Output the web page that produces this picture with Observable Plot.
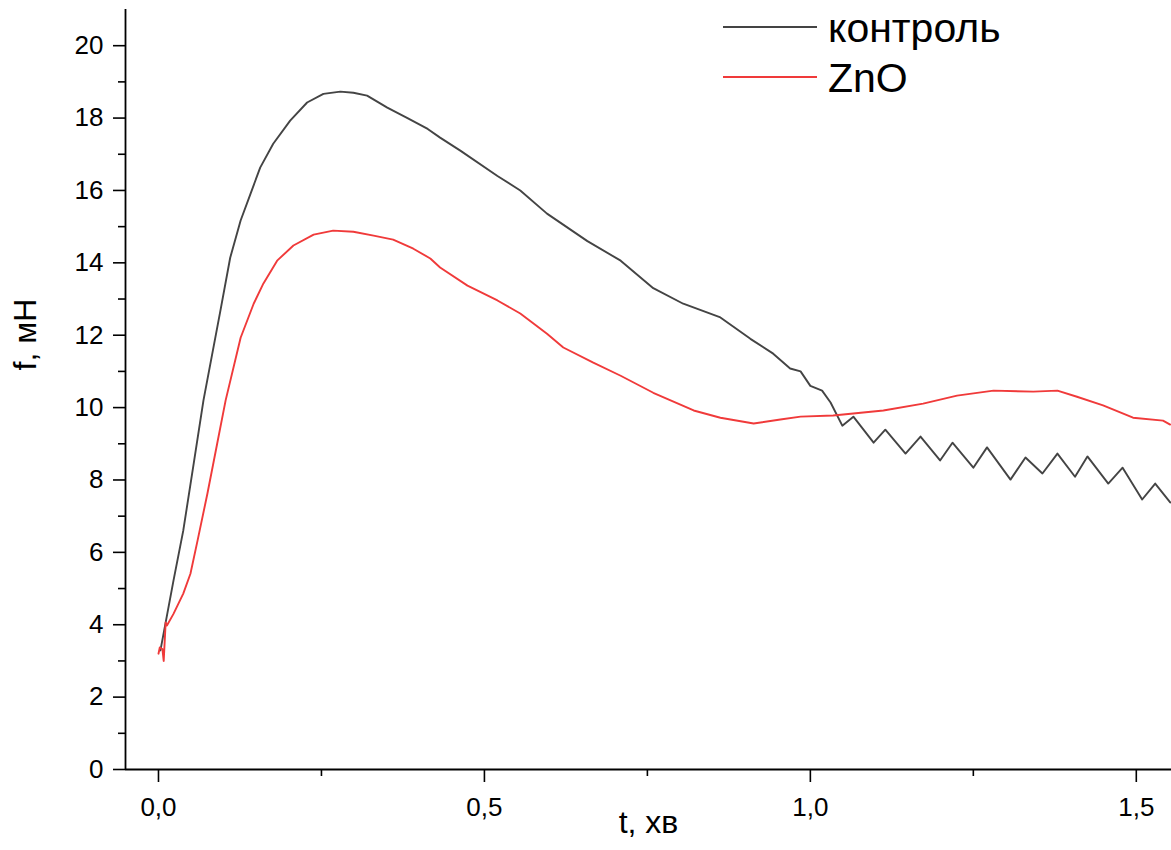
<!DOCTYPE html>
<html><head><meta charset="utf-8">
<script src="https://cdn.jsdelivr.net/npm/d3@7"></script>
<script src="https://cdn.jsdelivr.net/npm/@observablehq/plot@0.6"></script>
<style>
body{margin:0;background:#fff;font-family:"Liberation Sans",Arial,sans-serif;}
#wrap{position:relative;width:1171px;height:850px;overflow:hidden;}
.lg-line{position:absolute;left:723px;width:94px;height:1.6px;}
.lg-text{position:absolute;left:828px;font-size:41px;line-height:41px;color:#000;white-space:nowrap;}
</style></head><body><div id="wrap"></div>
<script>
// Series names and colours
const seriesNames = ["контроль", "ZnO"];
const seriesColors = ["#444444", "#f03a3a"];

// контроль
const controlT = [0.003,0.023,0.038,0.054,0.069,0.095,0.110,0.126,0.141,0.156,0.176,0.202,0.228,0.253,0.279,0.299,0.320,0.351,0.382,0.413,0.432,0.463,0.520,0.555,0.596,0.658,0.709,0.759,0.805,0.862,0.908,0.943,0.969,0.985,1.000,1.018,1.031,1.049,1.066,1.097,1.115,1.146,1.169,1.199,1.218,1.250,1.271,1.307,1.330,1.356,1.379,1.406,1.425,1.457,1.479,1.509,1.529,1.552];
const controlF = [3.29,5.22,6.6,8.45,10.2,12.68,14.14,15.17,15.9,16.63,17.29,17.93,18.43,18.67,18.73,18.70,18.62,18.29,18.0,17.7,17.46,17.1,16.4,16.0,15.36,14.6,14.06,13.3,12.87,12.49,11.9,11.49,11.08,11.0,10.6,10.47,10.14,9.5,9.75,9.03,9.39,8.73,9.2,8.54,9.03,8.34,8.9,8.01,8.62,8.18,8.73,8.09,8.65,7.9,8.34,7.46,7.9,7.38];

// ZnO
const znoT = [0.0,0.002,0.006,0.008,0.011,0.013,0.023,0.038,0.049,0.060,0.075,0.090,0.103,0.126,0.146,0.161,0.182,0.207,0.238,0.268,0.299,0.330,0.360,0.391,0.417,0.432,0.474,0.520,0.555,0.596,0.621,0.667,0.709,0.759,0.821,0.862,0.913,0.954,0.985,1.035,1.112,1.173,1.225,1.281,1.342,1.379,1.409,1.449,1.495,1.541,1.552];
const znoF = [3.2,3.37,3.33,3.0,4.06,3.98,4.3,4.86,5.41,6.33,7.62,9.0,10.2,11.93,12.87,13.43,14.06,14.48,14.78,14.89,14.86,14.75,14.64,14.39,14.12,13.87,13.37,12.96,12.6,12.04,11.66,11.24,10.88,10.41,9.92,9.72,9.56,9.67,9.75,9.78,9.92,10.11,10.33,10.47,10.44,10.47,10.30,10.06,9.72,9.64,9.53];

// Ticks
const xMajor = [0, 0.5, 1.0, 1.5];
const xMinor = [0.25, 0.75, 1.25];
const yMajor = [0,2,4,6,8,10,12,14,16,18,20];
const yMinor = [1,3,5,7,9,11,13,15,17,19];
const xDomain = [-0.0506, 1.554];
const yDomain = [0, 21];
const xTitle = "t, хв";
const yTitle = "f, мН";

const data = [
  ...controlT.map((t, i) => ({t, f: controlF[i], s: seriesNames[0]})),
  ...znoT.map((t, i) => ({t, f: znoF[i], s: seriesNames[1]}))
];
const fmt = d => d.toFixed(1).replace(".", ",");

const chart = Plot.plot({
  width: 1171, height: 850,
  marginLeft: 125, marginRight: 0, marginTop: 9, marginBottom: 81,
  style: {fontFamily: "'Liberation Sans', Arial, sans-serif", fontSize: "26px", color: "#000", background: "#fff", overflow: "visible"},
  x: {domain: xDomain},
  y: {domain: yDomain},
  color: {domain: seriesNames, range: seriesColors},
  marks: [
    Plot.axisY(yMajor, {tickSize: 12, tickPadding: 10, label: null, fontSize: 26, strokeWidth: 1.6, stroke: "#000"}),
    Plot.axisY(yMinor, {tickSize: 7, text: null, label: null, strokeWidth: 1.6, stroke: "#000"}),
    Plot.axisX(xMajor, {tickSize: 13, tickPadding: 15, tickFormat: fmt, label: null, fontSize: 26, strokeWidth: 1.6, stroke: "#000"}),
    Plot.axisX(xMinor, {tickSize: 7, text: null, label: null, strokeWidth: 1.6, stroke: "#000"}),
    Plot.ruleX([xDomain[0]], {stroke: "#000", strokeWidth: 1.8}),
    Plot.ruleY([yDomain[0]], {stroke: "#000", strokeWidth: 1.8}),
    Plot.line(data, {x: "t", y: "f", z: "s", stroke: "s", strokeWidth: 1.9, strokeLinejoin: "round"}),
    Plot.text([yTitle], {text: d => d, frameAnchor: "left", dx: -100, dy: -19, rotate: -90, fontSize: 32, fill: "#000"}),
    Plot.text([xTitle], {text: d => d, frameAnchor: "bottom", dy: 63, fontSize: 32, fill: "#000"})
  ]
});
const wrap = document.getElementById("wrap");
wrap.appendChild(chart);

// Legend inside plot area (top right)
const legendTops = [{line: 26, text: 8}, {line: 76, text: 58}];
seriesNames.forEach((name, i) => {
  const ln = document.createElement("div");
  ln.className = "lg-line";
  ln.style.top = legendTops[i].line + "px";
  ln.style.background = seriesColors[i];
  wrap.appendChild(ln);
  const tx = document.createElement("div");
  tx.className = "lg-text";
  tx.style.top = legendTops[i].text + "px";
  tx.textContent = name;
  wrap.appendChild(tx);
});
</script></body></html>
